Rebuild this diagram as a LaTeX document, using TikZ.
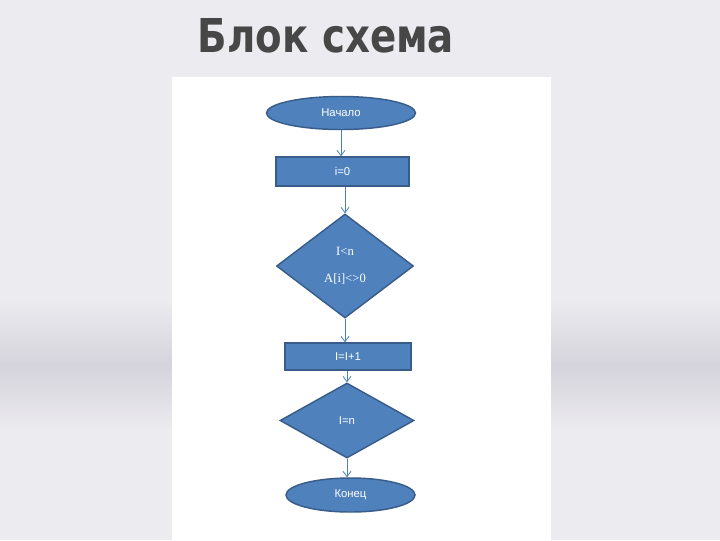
\documentclass[tikz,border=0pt]{standalone}
\usepackage{fontspec}
\setmainfont{Liberation Sans}
\newfontfamily\titlefont{DejaVu Sans}
\newfontfamily\serifrm{Liberation Serif}
\usetikzlibrary{shapes.geometric,arrows.meta}

\definecolor{slidebg}{HTML}{ECEBF0}
\definecolor{slideband}{HTML}{D5D3DB}
\definecolor{boxfill}{HTML}{4F81BD}
\definecolor{boxline}{HTML}{385D8A}
\definecolor{flowline}{HTML}{4A7EBB}
\definecolor{titlegray}{HTML}{474747}
\newcommand\pxl{0.75pt}

\tikzset{
  block/.style={draw=boxline, line width=1.1pt, fill=boxfill, text=white,
    font=\fontsize{8.5}{10}\selectfont, inner sep=0pt},
  terminal/.style={block, ellipse},
  process/.style={block, rectangle},
  decision/.style={block, diamond},
  flow/.style={draw=flowline, line width=0.6pt, -{Straight Barb[length=4pt,width=6pt]}}
}

\begin{document}
\begin{tikzpicture}[x=\pxl,y=-\pxl]
  % slide
  \fill[slidebg] (0,0) rectangle (720,540);
  \shade[top color=slidebg, bottom color=slidebg, middle color=slideband] (0,300) rectangle (720,430);
  \fill[white] (172,77) rectangle (551,540);
  \useasboundingbox (0,0) rectangle (720,540);
  \node[anchor=base, text=titlegray, font=\titlefont\bfseries\fontsize{35}{40}\selectfont] (title) at (326,52) {\scalebox{0.83}[1]{Блок схема}};

  % flowchart
  \node[terminal, minimum width=149*\pxl, minimum height=33*\pxl] (start) at (341,113) {Начало};
  \node[process, minimum width=133*\pxl, minimum height=29*\pxl] (init) at (342.5,171.5) {i=0};
  \node[decision, minimum width=137*\pxl, minimum height=104*\pxl, align=center,
    font=\serifrm\fontsize{9.5}{12}\selectfont] (cond) at (345,266) {I<n\\[8pt]A[i]<>0};
  \node[process, minimum width=126*\pxl, minimum height=27*\pxl] (incr) at (348,356.5) {I=I+1};
  \node[decision, minimum width=134*\pxl, minimum height=75*\pxl] (check) at (347,420.5) {I=n};
  \node[terminal, minimum width=129*\pxl, minimum height=34*\pxl] (stop) at (350.5,495) {Конец};

  \draw[flow] (start.south) -- (start.south |- init.north);
  \draw[flow] (cond.north |- init.south) -- (cond.north);
  \draw[flow] (cond.south) -- (cond.south |- incr.north);
  \draw[flow] (check.north |- incr.south) -- (check.north);
  \draw[flow] (check.south) -- (check.south |- stop.north);
\end{tikzpicture}
\end{document}
